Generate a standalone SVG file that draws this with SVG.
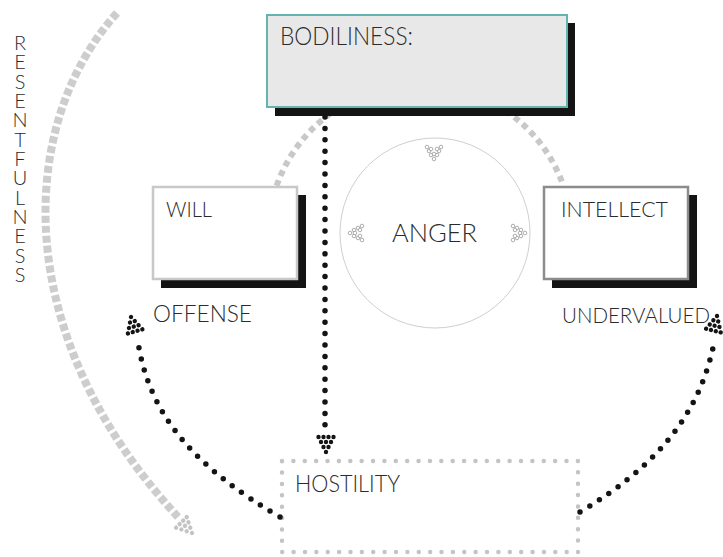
<svg xmlns="http://www.w3.org/2000/svg" xmlns:xlink="http://www.w3.org/1999/xlink" width="723" height="557" viewBox="0 0 723 557">
  <style>
    .lbl { font-family: "Lato", "Open Sans", "Liberation Sans", sans-serif; font-weight: 300; fill: #2b2b2b; }
    .shadow { fill: #141414; }
    .dotline { fill: none; stroke: #141414; stroke-width: 5.5; stroke-linecap: round; stroke-dasharray: 0 11.4; }
    .ring { fill: #ffffff; stroke: #9a9a9a; stroke-width: 0.8; }
  </style>
  <defs>
    <!-- dot-triangle arrowhead, tip at origin, pointing along +y -->
    <g id="dothead">
      <circle cx="-7.5" cy="-15" r="2.2"/>
      <circle cx="-2.5" cy="-15" r="2.2"/>
      <circle cx="2.5" cy="-15" r="2.2"/>
      <circle cx="7.5" cy="-15" r="2.2"/>
      <circle cx="-5" cy="-10" r="2.2"/>
      <circle cx="0" cy="-10" r="2.2"/>
      <circle cx="5" cy="-10" r="2.2"/>
      <circle cx="-2.5" cy="-5" r="2.2"/>
      <circle cx="2.5" cy="-5" r="2.2"/>
      <circle cx="0" cy="0" r="2.2"/>
    </g>
    <!-- small hollow-ring chevron, tip at origin, pointing along +y -->
    <g id="ringhead" class="ring">
      <circle cx="-7" cy="-13" r="1.8"/>
      <circle cx="-5" cy="-9" r="1.8"/>
      <circle cx="-3" cy="-5" r="1.8"/>
      <circle cx="0" cy="-1" r="1.8"/>
      <circle cx="3" cy="-5" r="1.8"/>
      <circle cx="5" cy="-9" r="1.8"/>
      <circle cx="7" cy="-13" r="1.8"/>
      <circle cx="-3" cy="-11" r="1.8"/>
      <circle cx="3" cy="-11" r="1.8"/>
      <circle cx="0" cy="-6" r="1.8"/>
    </g>
  </defs>

  <!-- background -->
  <rect x="0" y="0" width="723" height="557" fill="#ffffff"/>

  <!-- RESENTFULNESS sweep and its label -->
  <g id="resentfulness">
    <path d="M117,13 C20,120 5,330 178,517" fill="none" stroke="#cdcdcd" stroke-width="8" stroke-dasharray="7 3"/>
    <use xlink:href="#dothead" fill="#c4c4c4" transform="translate(192,533) rotate(-45)"/>
    <text class="lbl" x="20" y="30" font-size="20" style="writing-mode: vertical-rl; text-orientation: upright;" textLength="256" lengthAdjust="spacing">RESENTFULNESS</text>
  </g>

  <!-- dashed arc behind the top box -->
  <path id="arc" d="M276.6,185.8 A152,152 0 0,1 563.3,185.5" fill="none" stroke="#c8c8c8" stroke-width="6" stroke-dasharray="6 4.7"/>

  <!-- ANGER circle -->
  <g id="anger">
    <circle cx="435" cy="233" r="95" fill="none" stroke="#cfcfcf" stroke-width="1"/>
    <text class="lbl" x="392" y="242" font-size="25" textLength="85" lengthAdjust="spacingAndGlyphs">ANGER</text>
    <use xlink:href="#ringhead" transform="translate(434,160)"/>
    <use xlink:href="#ringhead" transform="translate(349,233) rotate(90)"/>
    <use xlink:href="#ringhead" transform="translate(526,233) rotate(-90)"/>
  </g>

  <!-- BODILINESS -->
  <g id="bodiliness">
    <rect class="shadow" x="275" y="23" width="300" height="93"/>
    <rect x="267" y="15" width="300" height="92" fill="#e9e8e8" stroke="#62b4ae" stroke-width="2"/>
    <text class="lbl" x="280" y="45" font-size="25" textLength="133" lengthAdjust="spacingAndGlyphs">BODILINESS:</text>
  </g>

  <!-- WILL -->
  <g id="will">
    <rect class="shadow" x="161" y="195" width="145" height="93"/>
    <rect x="153" y="187" width="144" height="92" fill="#ffffff" stroke="#c8c8c8" stroke-width="2.5"/>
    <text class="lbl" x="166" y="217" font-size="21" textLength="46" lengthAdjust="spacingAndGlyphs">WILL</text>
    <text class="lbl" x="153" y="322" font-size="23" textLength="99" lengthAdjust="spacingAndGlyphs">OFFENSE</text>
  </g>

  <!-- INTELLECT -->
  <g id="intellect">
    <rect class="shadow" x="552" y="195" width="145" height="93"/>
    <rect x="544" y="187" width="144" height="92" fill="#ffffff" stroke="#8c8c8c" stroke-width="2.5"/>
    <text class="lbl" x="561" y="217" font-size="21" textLength="107" lengthAdjust="spacingAndGlyphs">INTELLECT</text>
    <text class="lbl" x="562" y="323" font-size="21.5" textLength="148" lengthAdjust="spacingAndGlyphs">UNDERVALUED</text>
  </g>

  <!-- HOSTILITY -->
  <g id="hostility">
    <rect x="282" y="461" width="296" height="91" fill="none" stroke="#c4c4c4" stroke-width="4.5" stroke-linecap="round" stroke-dasharray="0 11.38"/>
    <text class="lbl" x="295" y="492" font-size="23" textLength="105" lengthAdjust="spacingAndGlyphs">HOSTILITY</text>
  </g>

  <!-- dotted connectors -->
  <g id="connectors">
    <path class="dotline" d="M325,117 L325,428"/>
    <use xlink:href="#dothead" fill="#141414" transform="translate(326,452)"/>
    <path class="dotline" d="M280,517 C200,470 150,420 138,342"/>
    <use xlink:href="#dothead" fill="#141414" transform="translate(131,317) rotate(164)"/>
    <path class="dotline" d="M580,512 C650,470 700,420 715,338"/>
    <use xlink:href="#dothead" fill="#141414" transform="translate(717,316) rotate(194)"/>
  </g>
</svg>
